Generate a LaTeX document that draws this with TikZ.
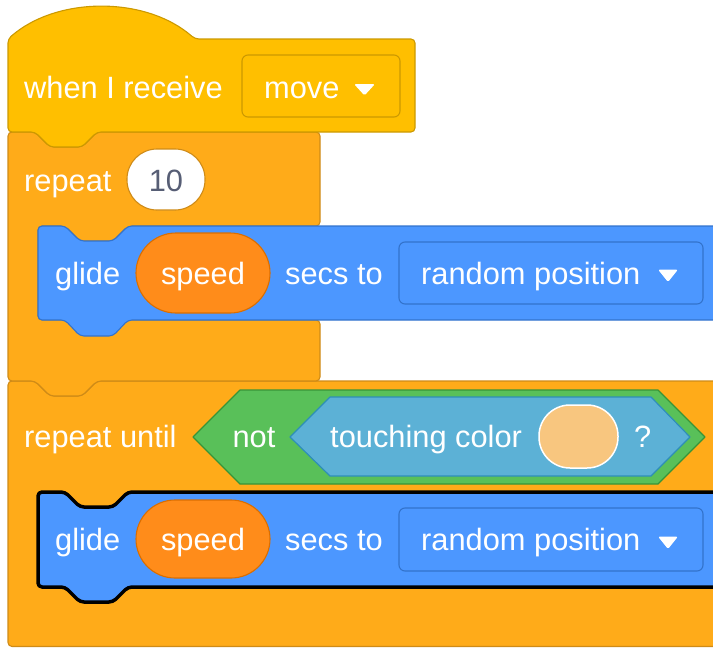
\documentclass[tikz,border=0pt]{standalone}
\usepackage{fontspec}
\setmainfont{Liberation Sans}
\definecolor{hatfill}{HTML}{FFBF00}
\definecolor{hatline}{HTML}{CC9900}
\definecolor{ctrlfill}{HTML}{FFAB19}
\definecolor{ctrlline}{HTML}{CF8B17}
\definecolor{motfill}{HTML}{4C97FF}
\definecolor{motline}{HTML}{3373CC}
\definecolor{varfill}{HTML}{FF8C1A}
\definecolor{varline}{HTML}{DB6E00}
\definecolor{opfill}{HTML}{59C059}
\definecolor{opline}{HTML}{389438}
\definecolor{sensfill}{HTML}{5CB1D6}
\definecolor{sensline}{HTML}{2E8EB8}
\definecolor{swatch}{HTML}{F8C67F}
\definecolor{numtext}{HTML}{575E75}
\begin{document}
\begin{tikzpicture}[x=1pt,y=-1pt,
  blk/.style={line width=1.1pt, rounded corners=4pt, line join=round},
  txt/.style={text=white, inner sep=0pt, anchor=base west, font=\fontsize{30.8}{36}\selectfont},
  ctxt/.style={txt, anchor=base},
  pill/.style={line width=1.1pt},
  ddtri/.style={fill=white, rounded corners=1.5pt}]
\useasboundingbox (0,0) rectangle (713,648);
\clip (0,0) rectangle (713,648);

% ---------- repeat until (C block) ----------
\path[blk, fill=ctrlfill, draw=ctrlline]
  (8,381) -- (35,381) -- (50,396) -- (82,396) -- (97,381) -- (740,381)
  -- (740,492) -- (128,492) -- (113,507) -- (80,507) -- (65,492) -- (38,492)
  -- (38,587) -- (740,587) -- (740,646.5) -- (8,646.5) -- cycle;

% glide 2 (highlighted)
\path[blk, fill=motfill, draw=black, line width=3.5pt]
  (38,492) -- (65,492) -- (80,507) -- (113,507) -- (128,492) -- (740,492)
  -- (740,587) -- (128,587) -- (113,602) -- (80,602) -- (65,587) -- (38,587) -- cycle;

% ---------- repeat 10 (C block) ----------
\path[blk, fill=ctrlfill, draw=ctrlline]
  (8,132) -- (35,132) -- (50,147) -- (82,147) -- (97,132) -- (320,132)
  -- (320,226) -- (128,226) -- (113,241) -- (80,241) -- (65,226) -- (38,226)
  -- (38,320) -- (320,320) -- (320,381) -- (97,381) -- (82,396) -- (50,396)
  -- (35,381) -- (8,381) -- cycle;

% glide 1
\path[blk, fill=motfill, draw=motline]
  (38,226) -- (65,226) -- (80,241) -- (113,241) -- (128,226) -- (740,226)
  -- (740,320) -- (128,320) -- (113,336) -- (80,336) -- (65,320) -- (38,320) -- cycle;

% ---------- hat block ----------
\path[blk, fill=hatfill, draw=hatline]
  (8,132) -- (8,39) .. controls (57,-4) and (146,-4) .. (195,39) -- (415,39)
  -- (415,132) -- (97,132) -- (82,147) -- (50,147) -- (35,132) -- cycle;

% hat dropdown
\path[fill=hatfill, draw=hatline, line width=1.1pt, rounded corners=6pt] (242,55) rectangle (400,117);
\node[txt] (wir) at (24,98) {when I receive};
\node[txt] (move) at (264,98) {move};
\path[ddtri] (354,84) -- (375,84) -- (364.5,95.5) -- cycle;

% repeat 10
\node[txt] (rep) at (24,191) {repeat};
\path[fill=white, draw=ctrlline, pill, rounded corners=30pt] (127,149) rectangle (205,210);
\node[ctxt, text=numtext] (ten) at (166,191) {10};

% glide 1 content
\node[txt] (gl1) at (55,284) {glide};
\path[fill=varfill, draw=varline, pill, rounded corners=40pt] (136,233) rectangle (270,313);
\node[ctxt] (sp1) at (203,284) {speed};
\node[txt] (st1) at (285,284) {secs to};
\path[fill=motfill, draw=motline, line width=1.1pt, rounded corners=6pt] (399,242) rectangle (703,304);
\node[txt] (rp1) at (421,284) {random position};
\path[ddtri] (658,269.5) -- (678,269.5) -- (668,282) -- cycle;

% repeat until content
\node[txt] (ru) at (24,447) {repeat until};
\path[fill=opfill, draw=opline, line width=1.2pt, line join=round]
  (193,437) -- (240,390) -- (658,390) -- (705,437) -- (658,484) -- (240,484) -- cycle;
\node[ctxt] (not) at (254,447) {not};
\path[fill=sensfill, draw=sensline, line width=1.2pt, line join=round]
  (290,437) -- (330,397) -- (651,397) -- (690,437) -- (651,476) -- (330,476) -- cycle;
\node[txt] (tc) at (330,447) {touching color};
\path[fill=swatch, draw=white, line width=1.5pt, rounded corners=31pt] (539,405) rectangle (618,468);
\node[txt] (q) at (634,447) {?};

% glide 2 content
\node[txt] (gl2) at (55,550) {glide};
\path[fill=varfill, draw=varline, pill, rounded corners=39pt] (136,500) rectangle (270,578);
\node[ctxt] (sp2) at (203,550) {speed};
\node[txt] (st2) at (285,550) {secs to};
\path[fill=motfill, draw=motline, line width=1.1pt, rounded corners=6pt] (399,508) rectangle (703,571);
\node[txt] (rp2) at (421,550) {random position};
\path[ddtri] (658,536.5) -- (678,536.5) -- (668,549) -- cycle;
\end{tikzpicture}
\end{document}
